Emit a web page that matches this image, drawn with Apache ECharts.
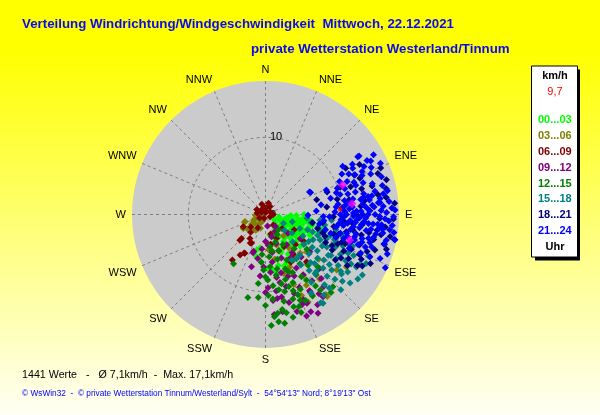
<!DOCTYPE html>
<html>
<head>
<meta charset="utf-8">
<script src="https://cdn.jsdelivr.net/npm/echarts@6/dist/echarts.min.js"></script>
<style>
html,body{margin:0;padding:0;}
#chart{width:600px;height:415px;}
</style>
</head>
<body>
<div id="chart"></div>
<script>
// Himmelsrichtungen (Winkelachse)
var richtungen = ['N','NNE','NE','ENE','E','ESE','SE','SSE','S','SSW','SW','WSW','W','WNW','NW','NNW'];
// Zeitklassen (Legende)
var zeitklassen = ['00...03','03...06','06...09','09...12','12...15','15...18','18...21','21...24'];
var farben = ['#00ff00','#808000','#800000','#800080','#008000','#008080','#000080','#0000ff'];

var w0003 = [[3.5,113],[4.3,100],[4.9,96],[2.0,111],[3.5,129],[4.9,152],[6.8,166],[4.4,189],[4.7,194],[7.3,172],[6.9,157],[4.5,99],[5.4,95],
  [3.0,120],[2.6,135],[3.8,122],[4.1,108],[5.0,104],[5.6,100],[6.0,98],[3.2,103],[2.8,98],[2.4,125],[4.6,117],[5.2,112],[5.8,107],[6.2,103],
  [3.9,140],[4.4,133],[5.1,126],[5.6,121],[6.3,115],[3.4,150],[4.2,146],[5.5,140],[6.1,132],[2.2,145],[1.6,130],[1.2,118],[3.1,160],[4.0,162],
  [5.3,158],[5.9,150],[6.6,145],[7.1,160],[7.5,170],[4.8,170],[3.7,176],[2.7,168],[6.4,125],[6.9,118],[5.0,90],[4.0,92],[3.3,92],[7.2,110],
  [7.6,104],[5.6,192],[6.2,185],[7.0,178],
  [3.0,108],[3.6,100],[4.0,104],[4.6,108],[5.2,98],[4.8,103],[3.8,114],[4.3,120],[5.0,118],[5.5,114],[2.8,115],[3.3,110],[4.6,125],
  [5.3,131],[3.8,135],[2.5,105],[1.8,100],[6.0,111],[5.9,125],[4.9,138]];
var w0306 = [[1.7,245],[1.2,246],[0.8,248],[2.6,225],[3.3,241],[1.8,230],[2.7,222],[2.2,235],[1.5,215],[1.0,205],[0.6,225],[2.9,250],[3.0,232],
  [2.4,212],[1.9,200],[0.5,260],[1.3,265],[2.8,251],[3.4,238],
  [12.5,123],[13.3,143],[12.6,154],[6.7,138],[11.7,128],[10.6,150],[13.0,143],[12.0,150],[6.9,148],[3.0,150],[4.2,160],[5.3,145],[7.5,155],
  [8.4,140],[9.3,148],[8.0,163],[9.8,158],[10.9,140],[4.6,175],[5.9,168],[3.6,140],[11.5,156],[7.2,132],[9.0,130]];
var w0609 = [[0.3,0],[0.4,23],[0.65,116],[0.5,340],[0.8,320],[0.6,300],[1.0,350],[0.9,10],[1.2,30],[0.7,60],[1.1,280],[1.3,300],[0.5,200],
  [0.9,240],[1.4,340],[1.0,90],[1.5,15],
  [3.3,241],[4.4,225],[3.7,213],[4.1,206],[5.7,208],[7.3,216],[4.7,225],[5.7,209],[4.2,208],[6.2,212],[3.0,220],[2.5,230],[2.0,210],
  [1.7,143],[3.4,155],[8.1,139],[2.6,165],[4.8,150],[5.5,135],[6.3,145],[3.9,170],[2.8,130],[5.0,160],[7.0,152],[6.0,125],[4.2,118]];
var w0912 = [[13.9,155],[10.9,169],[5.2,198],[12.6,158],[10.9,160],[12.0,141],[8.3,170],[3.5,180],[4.8,145],[5.0,198],[11.4,150],[12.1,156],
  [11.0,139],[9.7,164],[2.5,150],[3.0,165],[4.0,175],[6.0,160],[6.5,150],[7.2,140],[7.8,165],[8.8,155],[9.2,148],[10.0,172],[11.8,165],
  [13.2,162],[14.2,158],[12.8,170],[9.5,178],[8.0,185],[6.8,182],[5.8,190],[4.5,186],[3.8,130],[5.5,125],[7.5,130],[9.9,135],[10.5,145],
  [2.0,140],[1.5,170],[6.2,172],[8.5,160],[11.2,175],[13.5,150],[12.4,146],[7.0,195],[13.0,175],[11.0,172],
  [9.0,168],[10.4,155],[11.6,150],[12.7,155],[7.5,175],[6.0,145],[8.0,150],[10.1,180],[4.0,160],[5.0,170],[14.5,152],[13.0,145]];
var w1215 = [[14.4,177],[14.3,170],[12.5,163],[12.8,137],[7.2,182],[9.9,170],[9.2,167],[12.0,158],[12.3,155],[12.1,144],[8.1,180],[10.0,148],
  [6.5,155],[4.2,172],[7.6,213],[11.0,175],[11.5,168],[10.5,160],[9.5,158],[8.8,163],[8.0,170],[7.5,160],[6.9,150],[6.0,165],[5.5,175],
  [5.0,160],[4.5,150],[10.8,185],[9.0,186],[8.5,178],[13.0,168],[13.5,160],[12.2,150],[11.3,145],[10.2,140],[9.6,135],[8.6,140],[7.8,145],
  [3.8,160],[3.0,150],[2.6,140],[11.8,180],[12.9,173],[6.2,185],[5.8,140],[7.0,130],[9.3,150],[10.7,155],[8.3,155],[13.8,165],
  [9.8,162],[10.3,166],[11.2,158],[12.5,170],[13.3,175],[8.0,158],[7.2,168],[9.3,174],[6.8,175],[10.5,178],[11.5,162],[12.7,160],
  [5.2,185],[4.8,170],[14.0,173],[13.2,140],[11.0,192]];
var w1518 = [[14.1,129],[14.4,112],[12.5,128],[13.3,113],[12.9,144],[13.5,148],[5.4,95],[7.4,107],[9.7,123],[10.8,122],[9.9,138],[13.7,147],
  [6.9,140],[11.8,150],[2.6,116],[7.1,96],[6.0,100],[6.5,110],[7.0,118],[8.0,105],[8.5,112],[9.0,118],[9.5,110],[10.0,115],[10.5,128],
  [11.0,118],[11.5,125],[12.0,120],[8.2,125],[8.8,130],[7.6,132],[6.3,128],[5.6,120],[4.8,112],[4.2,125],[3.6,105],[10.2,133],[11.3,135],
  [12.3,133],[9.2,142],[8.0,145],[10.6,146],[7.8,100],[9.3,102],[10.4,106],[11.6,110],[12.6,115],[13.6,120],[8.6,95],[5.0,135],[3.2,130],
  [6.8,150],[9.6,128],[11.9,140],[13.0,125],[7.3,112],[8.4,119],
  [7.0,104],[7.8,115],[8.8,108],[9.8,113],[10.8,112],[11.8,115],[12.8,120],[10.0,122],[11.2,130],[12.2,127],[9.0,135],[10.0,140],
  [5.8,110],[6.6,122],[7.4,125],[8.5,137],[7.0,145],[12.6,139],[13.8,135],[14.6,125],
  [13.8,118],[14.8,122],[13.2,131],[14.5,116],[12.0,110]];
var w1821 = [[16.1,68],[16.0,78],[16.3,106],[13.6,119],[10.8,123],[13.1,69],[6.9,74],[8.0,83],[14.4,103],[12.6,66],[9.0,100],[9.8,105],
  [10.5,110],[11.2,115],[12.0,112],[12.8,108],[11.5,100],[10.2,95],[8.8,92],[7.5,98],[12.2,118],[13.2,113],[14.0,110],[9.5,115],[8.2,110],
  [15.2,100],[14.8,92],[13.5,88],[12.4,85],[11.0,80],[9.5,78],[8.5,70],[10.3,70],[11.6,72],[14.3,75],[15.5,70],[13.8,62],[12.0,60],
  [16.6,92],[16.8,85],[7.0,105],[6.2,100],[15.0,115],[14.2,118],[11.8,90],[10.0,85],
  [9.2,106],[10.1,112],[11.0,110],[11.9,106],[12.7,102],[13.6,100],[14.6,98],[15.6,96],[10.7,102],[11.4,96],[12.6,96],[9.8,118],
  [11.3,120],[12.5,122],[13.7,115],[14.9,108],[15.9,104],[16.4,100],[8.6,115],[7.8,108],[13.0,82],[14.8,80],[12.9,75],[15.8,82],[16.3,74]];
var w2124 = [[14.1,58],[16.3,66],[11.8,58],[6.4,63],[16.6,91],[17.1,101],[17.0,114],[5.5,91],[11.4,91],[16.0,61],[14.3,58],[13.7,66],
  [12.7,66],[15.8,72],[14.4,74],[16.1,79],[6.5,64],[8.5,68],[9.6,73],[12.9,80],[14.7,84],[16.1,84],[16.8,88],[14.8,91],[17.0,101],[15.3,97],
  [9.5,82],[10.0,86],[10.5,90],[11.0,94],[11.5,98],[12.0,102],[12.5,96],[13.0,92],[13.5,88],[14.0,95],[14.5,100],[10.2,98],[10.8,103],
  [11.3,85],[11.8,88],[12.2,92],[12.7,84],[13.2,99],[13.7,103],[14.2,90],[9.8,94],[10.4,80],[11.1,82],[11.7,95],[12.4,88],[12.9,104],
  [13.4,95],[13.9,85],[14.6,95],[15.0,88],[15.5,92],[15.8,104],[16.2,97],[9.3,100],[10.6,107],[11.6,108],[12.6,108],[13.6,108],[14.4,107],
  [12.0,76],[13.0,78],[11.0,76],[10.0,75],[14.0,80],[15.0,82],[16.5,95],[9.0,88],[8.3,92],[7.6,96],[7.1,100],[8.0,104],[8.8,106],[9.6,108],
  [7.5,92],[10.5,66],[11.2,62],[12.2,70],[13.3,72],[15.0,66],[14.9,62],[13.0,60],[15.6,76],[12.0,64],[7.3,80],[6.6,86],[8.7,76],
  [16.6,108],[15.9,111],[13.3,112],[14.6,112],[11.7,112],
  [9.2,84],[9.7,90],[10.1,92],[10.7,96],[11.2,100],[11.9,104],[12.3,98],[12.8,94],[13.3,90],[13.8,98],[14.3,102],[14.8,97],[10.3,88],
  [10.9,86],[11.4,89],[11.9,93],[12.6,90],[13.1,86],[13.6,82],[14.1,86],[14.9,84],[15.3,86],[15.7,89],[16.0,93],[15.1,95],[15.4,99],
  [14.0,105],[13.0,106],[12.0,106],[11.0,105],[10.0,104],[9.6,97],[10.5,83],[11.5,80],[12.5,81],[13.5,80],[14.5,78],[15.5,80],[16.4,87],
  [12.3,72],[13.5,68],[14.6,69],[11.4,68],[10.8,72],[9.9,70],[15.3,63],[12.8,62],[14.2,64],[16.8,98],[16.0,102]];
var zeitDaten = [w0003,w0306,w0609,w0912,w1215,w1518,w1821,w2124];
// hervorgehobene Werte (magenta) und aktueller Wert (rot)
var markiert = [[10.7,69],[11.3,83],[11.4,107]];
var aktuell = [[9.7,86]];
var aktuellText = '9,7';

var chart = echarts.init(document.getElementById('chart'));

var serien = [];
for (var i = 0; i < zeitDaten.length; i++) {
  serien.push({
    name: zeitklassen[i],
    type: 'scatter',
    coordinateSystem: 'polar',
    polarIndex: 1,
    symbol: 'diamond',
    symbolSize: 7,
    itemStyle: {color: farben[i], opacity: 1},
    data: zeitDaten[i]
  });
}
serien.push({name:'markiert', type:'scatter', coordinateSystem:'polar', polarIndex:1, symbol:'diamond', symbolSize:9,
  itemStyle:{color:'#ff00ff'}, data: markiert});
serien.push({name:'aktuell', type:'scatter', coordinateSystem:'polar', polarIndex:1, symbol:'rect', symbolSize:4,
  itemStyle:{color:'#ff0000'}, data: aktuell});

var legendeDaten = [];
for (var j = 0; j < zeitklassen.length; j++) {
  legendeDaten.push({name: zeitklassen[j], textStyle: {color: farben[j]}});
}

var dash = [3, 3];
var option = {
  animation: false,
  backgroundColor: {type:'linear', x:0, y:0, x2:0, y2:1,
    colorStops:[{offset:0, color:'#ffff00'},{offset:0.12, color:'#ffff00'},{offset:1, color:'#fffff4'}]},
  textStyle: {fontFamily: 'Liberation Sans, Arial, sans-serif'},
  title: [
    {text:'Verteilung Windrichtung/Windgeschwindigkeit  Mittwoch, 22.12.2021', left:22, top:18, padding:0,
      textStyle:{color:'#0a0af0', fontSize:13.3, fontWeight:'bold'}},
    {text:'private Wetterstation Westerland/Tinnum', left:251, top:43, padding:0,
      textStyle:{color:'#0a0af0', fontSize:13.3, fontWeight:'bold'}},
    {text:'1441 Werte   -   Ø 7,1km/h  -  Max. 17,1km/h', left:22, top:370, padding:0,
      textStyle:{color:'#000', fontSize:10.7, fontWeight:'normal'}},
    {text:'© WsWin32  -  © private Wetterstation Tinnum/Westerland/Sylt  -  54°54\'13" Nord; 8°19\'13" Ost', left:22, top:390, padding:0,
      textStyle:{color:'#0000ff', fontSize:8.3, fontWeight:'normal'}}
  ],
  legend: {
    data: legendeDaten,
    orient: 'vertical',
    left: 533, top: 112, padding: 0,
    itemWidth: 0, itemHeight: 0, itemGap: 0,
    selectedMode: false,
    textStyle: {fontSize:11, fontWeight:'bold', lineHeight:15.9}
  },
  graphic: [
    {type:'rect', shape:{x:535, y:69.5, width:45, height:191}, style:{fill:'#000'}},
    {type:'rect', shape:{x:531.5, y:66, width:46, height:191}, style:{fill:'#fff', stroke:'#000', lineWidth:1}},
    {type:'text', x:555, y:76, style:{text:'km/h', fill:'#000', font:'bold 11px Liberation Sans', textAlign:'center', textVerticalAlign:'middle'}},
    {type:'text', x:555, y:92, style:{text:aktuellText, fill:'#ff0000', font:'11px Liberation Sans', textAlign:'center', textVerticalAlign:'middle'}},
    {type:'text', x:555, y:247, style:{text:'Uhr', fill:'#000', font:'bold 11px Liberation Sans', textAlign:'center', textVerticalAlign:'middle'}}
  ],
  // Polar 0: nur graue Scheibe, Polar 1: Gitter, Beschriftung, Punkte
  polar: [
    {center:[265.5, 214.5], radius:133.5},
    {center:[265.5, 214.5], radius:133.5}
  ],
  angleAxis: [
    {polarIndex:0, type:'value', min:0, max:360, startAngle:90, z:0,
      axisLine:{show:false}, axisTick:{show:false}, axisLabel:{show:false}, splitLine:{show:false},
      splitArea:{show:true, areaStyle:{color:['#cbcbcb']}}},
    {polarIndex:1, type:'value', min:0, max:360, interval:22.5, startAngle:90, clockwise:true, z:2,
      axisLine:{show:false}, axisTick:{show:false},
      axisLabel:{color:'#000', fontSize:11, margin:6, formatter:function(v){
        var k = Math.round(v / 22.5);
        return k < 16 ? richtungen[k] : '';
      }},
      splitLine:{show:true, lineStyle:{color:'#808080', type:dash, width:1}},
      splitArea:{show:false}}
  ],
  radiusAxis: [
    {polarIndex:0, type:'value', min:0, max:17.3, z:0,
      axisLine:{show:false}, axisTick:{show:false}, axisLabel:{show:false}, splitLine:{show:false}},
    {polarIndex:1, type:'value', min:0, max:17.3, interval:10, z:2,
      axisLine:{show:false}, axisTick:{show:false},
      axisLabel:{color:'#000', fontSize:11, showMaxLabel:false, margin:-4.5, align:'left'},
      splitLine:{show:true, lineStyle:{color:['#808080','#808080','rgba(0,0,0,0)'], type:dash, width:1}}}
  ],
  series: serien
};
chart.setOption(option);
</script>
</body>
</html>
